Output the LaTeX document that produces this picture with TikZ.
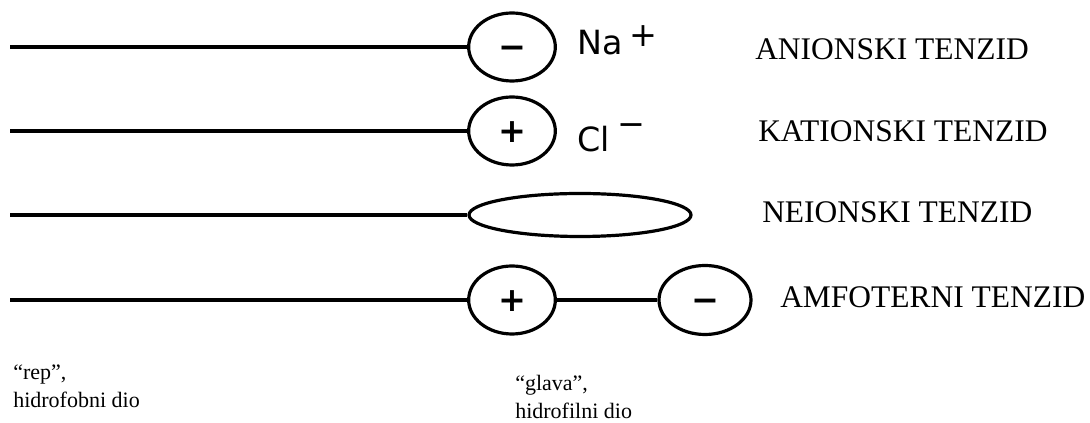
\documentclass[tikz,border=0pt]{standalone}
\usepackage{fontspec}
\setmainfont{Liberation Serif}
\newfontfamily\ionfont{DejaVu Sans}
\usetikzlibrary{shapes.geometric}
\newcommand{\znak}[1]{\raisebox{-0.34em}{#1}}
\tikzset{
  glava/.style={draw, ellipse, line width=2.4pt, inner sep=0pt, minimum width=65pt, minimum height=51pt,
    text height=0pt, text depth=0pt, font=\ionfont\bfseries\fontsize{25}{28}\selectfont},
  rep/.style={line width=2.4pt},
  naziv/.style={anchor=base west, inner sep=0pt, font=\fontsize{23.6}{26}\selectfont},
  ion/.style={anchor=base west, inner sep=0pt, font=\ionfont\fontsize{25}{28}\selectfont},
  opis/.style={anchor=base west, inner sep=0pt, align=left, font=\fontsize{16.5}{21}\selectfont}
}

\begin{document}
\begin{tikzpicture}[x=0.75pt, y=-0.75pt]
  \useasboundingbox (0,0) rectangle (1090,423);
  % glave
  \node[glava] (anion) at (512,47) {\znak{−}};
  \node[glava] (kation) at (512,131) {\znak{+}};
  \node[glava, minimum width=166.5pt, minimum height=32.25pt] (neion) at (580,215) {};
  \node[glava] (amfplus) at (512,300) {\znak{+}};
  \node[glava, minimum width=69pt, minimum height=51.75pt] (amfminus) at (705,300) {\znak{−}};
  % repovi
  \foreach \y/\glava in {47/anion, 131/kation, 215/neion, 300/amfplus} {
    \coordinate (t\glava) at (10,\y);
    \draw[rep] (t\glava) -- (\glava.west);
  }
  \draw[rep] (amfplus) -- (amfminus);
  % protuioni
  \node[ion] (na) at (577,55) {Na\hspace{5pt}\raisebox{6pt}{+}};
  \node[ion] (cl) at (577,152) {Cl\hspace{6pt}\raisebox{12.5pt}{−}};
  % nazivi
  \foreach \x/\y/\ime/\lab in {755/60/nanion/ANIONSKI, 758/142/nkation/KATIONSKI, 762/223/nneion/NEIONSKI, 780/308/namf/AMFOTERNI}
    \node[naziv] (\ime) at (\x,\y) {\lab{} TENZID};
  % opisi
  \node[opis] (oprep) at (13,408) {“rep”,\\hidrofobni dio};
  \node[opis] (opglava) at (515,419) {“glava”,\\hidrofilni dio};
\end{tikzpicture}
\end{document}
